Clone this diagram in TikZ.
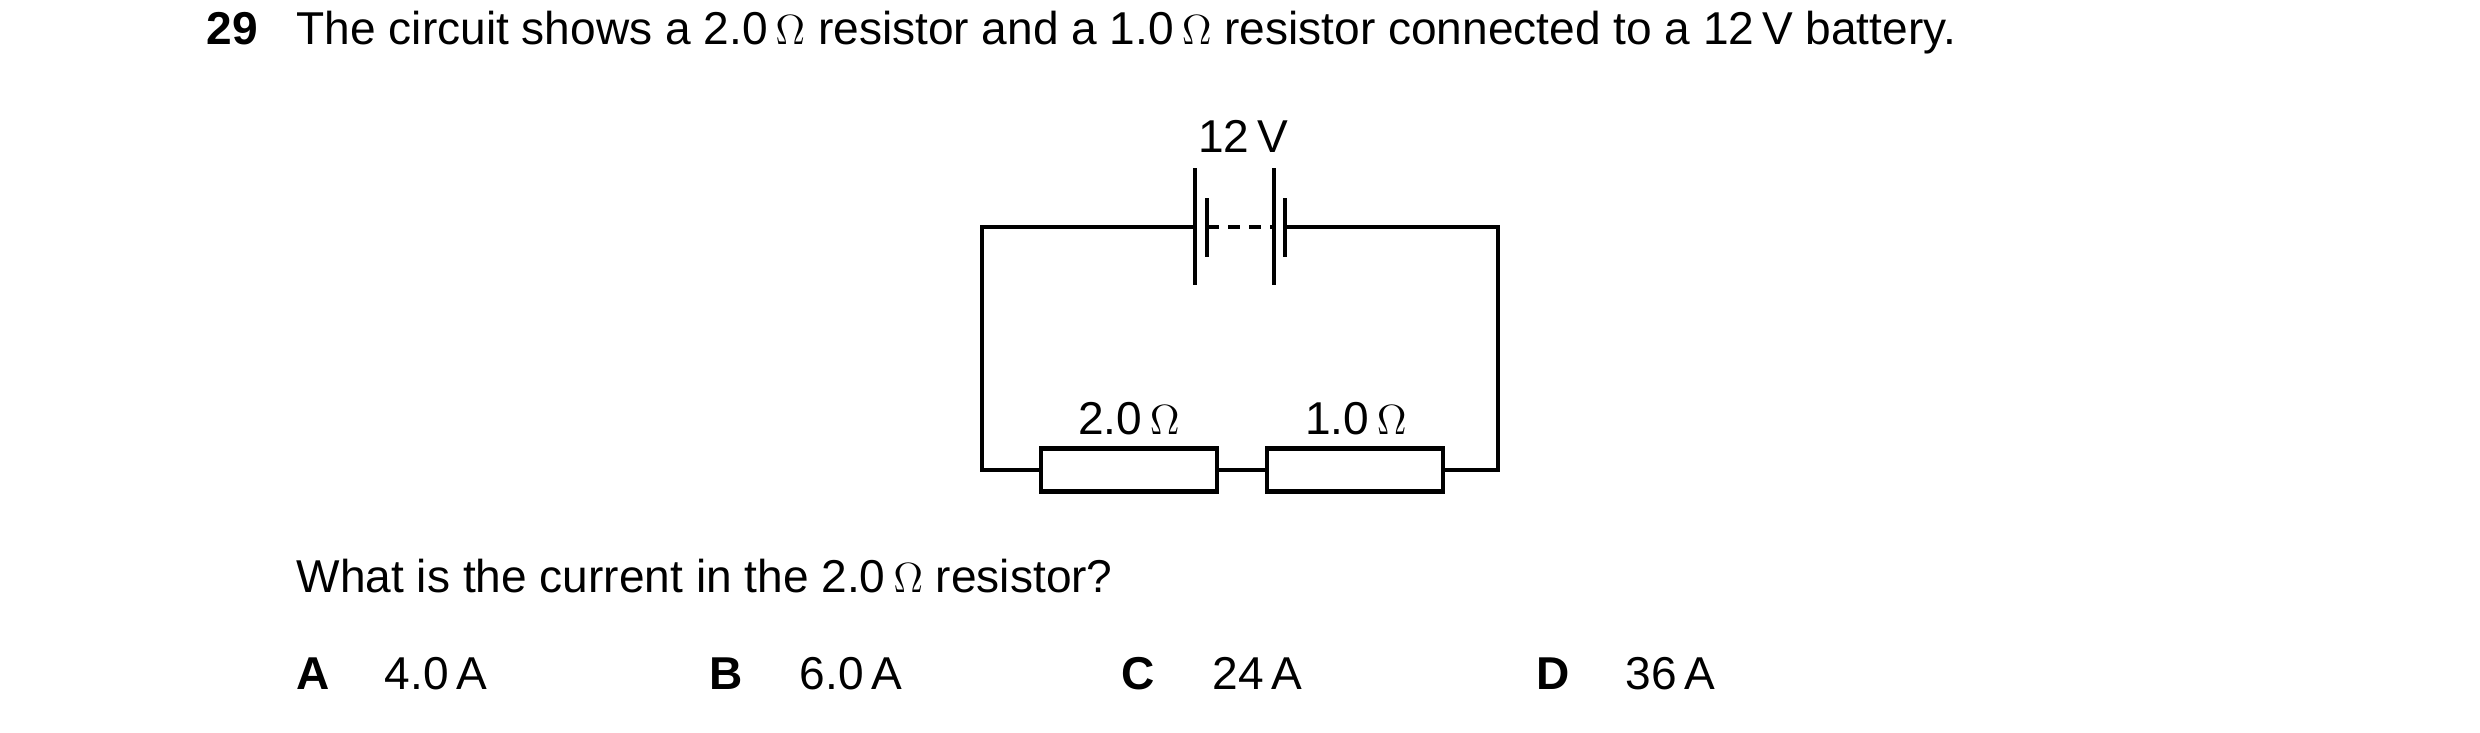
\documentclass[tikz,border=0pt]{standalone}
\usepackage{fontspec}
\setmainfont{Liberation Sans}
\newcommand{\ohm}{\,$\Omega$}
\tikzset{
  wire/.style={line width=1.2pt},
  txt/.style={anchor=base west,inner sep=0pt,font=\fontsize{13.1}{15}\selectfont},
  lbl/.style={inner sep=0pt,font=\fontsize{13.1}{15}\selectfont},
  res/.style={draw,line width=1.2pt,minimum width=1.76cm,minimum height=0.43cm,inner sep=0pt}
}
\begin{document}
\begin{tikzpicture}[x=0.01cm,y=-0.01cm]
\useasboundingbox (0,0) rectangle (2480,733);
% question text
\node[txt,font=\fontsize{13.1}{15}\selectfont\bfseries] (num) at (206,44) {29};
\node[txt] (q) at (296,44) {The circuit shows a 2.0\ohm{} resistor and a 1.0\ohm{} resistor connected to a 12\,V battery.};
\node[txt] (ask) at (296,592) {What is the current in the 2.0\ohm{} resistor?};
\foreach \l/\v/\xa/\xb in {A/4.0\,A/296/384, B/6.0\,A/709/799, C/24\,A/1121/1212, D/36\,A/1536/1625}{
  \node[txt,font=\fontsize{13.1}{15}\selectfont\bfseries] (opt\l) at (\xa,689) {\l};
  \node[txt] (val\l) at (\xb,689) {\v};
}
% circuit
\coordinate (tl) at (982,227);\coordinate (tr) at (1498,227);
\coordinate (bl) at (982,470);\coordinate (br) at (1498,470);
\node[res] (r1) at (1129,470) {};
\node[res] (r2) at (1355,470) {};
\node[lbl] (l1) at (1129,419) {2.0\ohm};
\node[lbl] (l2) at (1356,419) {1.0\ohm};
\node[lbl] (bv) at (1243,136) {12\,V};
% battery
\coordinate (c1) at (1195,227);\coordinate (s1) at (1207,227);
\coordinate (c2) at (1274,227);\coordinate (s2) at (1285,227);
\draw[wire] (c1 |- 0,168) -- (c1 |- 0,285) (c2 |- 0,168) -- (c2 |- 0,285);
\draw[wire] (s1 |- 0,198) -- (s1 |- 0,257) (s2 |- 0,198) -- (s2 |- 0,257);
\draw[wire,dash pattern=on 3.4pt off 2.6pt] (s1) -- (c2);
\draw[wire] (c1) -- (tl) -- (bl) -- (r1.west) (r1.east) -- (r2.west) (r2.east) -- (br) -- (tr) -- (s2);
\end{tikzpicture}
\end{document}
